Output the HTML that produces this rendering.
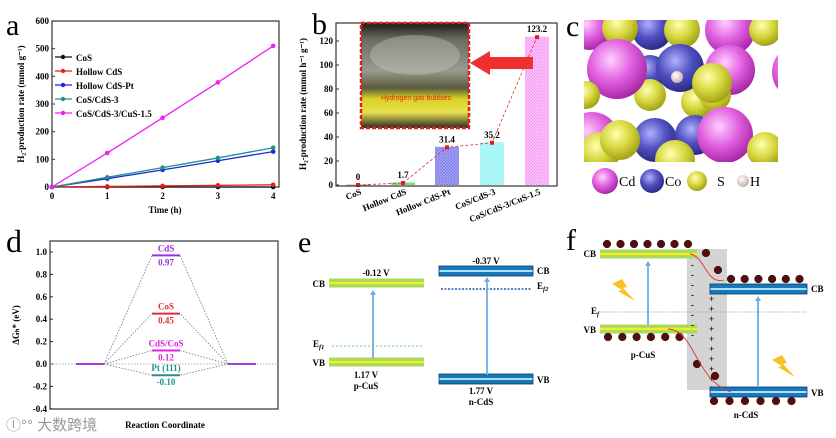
<!DOCTYPE html>
<html><head><meta charset="utf-8"><style>
body{margin:0;background:#fff;width:836px;height:438px;overflow:hidden}
svg{display:block;font-family:"Liberation Serif",serif}
.t{font-weight:bold;font-size:9px}
</style></head><body>
<svg id="fig" width="836" height="438" viewBox="0 0 836 438">
<defs>
<pattern id="hatchB" width="3" height="3" patternUnits="userSpaceOnUse"><rect width="3" height="3" fill="#7a7ae8"/><path d="M0 0L3 3M3 0L0 3" stroke="#b0b0f8" stroke-width="0.6"/></pattern>
<pattern id="hatchC" width="3" height="3" patternUnits="userSpaceOnUse"><rect width="3" height="3" fill="#8ff0f0"/><path d="M0 0L3 3M3 0L0 3" stroke="#c8ffff" stroke-width="0.6"/></pattern>
<pattern id="hatchP" width="3" height="3" patternUnits="userSpaceOnUse"><rect width="3" height="3" fill="#f39af3"/><path d="M0 0L3 3M3 0L0 3" stroke="#ffd0ff" stroke-width="0.6"/></pattern>
<radialGradient id="gCd" cx="0.4" cy="0.35" r="0.7"><stop offset="0" stop-color="#ffd0ff"/><stop offset="0.5" stop-color="#e060e0"/><stop offset="1" stop-color="#a020a0"/></radialGradient>
<radialGradient id="gCo" cx="0.4" cy="0.35" r="0.7"><stop offset="0" stop-color="#b0b0ff"/><stop offset="0.5" stop-color="#5050c0"/><stop offset="1" stop-color="#252580"/></radialGradient>
<radialGradient id="gS" cx="0.4" cy="0.35" r="0.7"><stop offset="0" stop-color="#ffffb0"/><stop offset="0.5" stop-color="#d8d840"/><stop offset="1" stop-color="#9a9a10"/></radialGradient>
<radialGradient id="gH" cx="0.4" cy="0.35" r="0.7"><stop offset="0" stop-color="#fff"/><stop offset="1" stop-color="#c8a8a8"/></radialGradient>
<linearGradient id="photo" x1="0" y1="0" x2="0" y2="1"><stop offset="0" stop-color="#1a1a14"/><stop offset="0.15" stop-color="#6a6a60"/><stop offset="0.45" stop-color="#9a9a90"/><stop offset="0.62" stop-color="#5a5a40"/><stop offset="0.72" stop-color="#d8d020"/><stop offset="0.85" stop-color="#e8e050"/><stop offset="1" stop-color="#2a2a20"/></linearGradient>
</defs>
<g id="pa"></g>
<g id="pb"></g>
<g id="pc"></g>
<g id="pd"></g>
<g id="pe"></g>
<g id="pf"></g>
</svg>
<script>
// Panel a data
const aTimes=[0,1,2,3,4];
const aSeriesNames=["CoS","Hollow CdS","Hollow CdS-Pt","CoS/CdS-3","CoS/CdS-3/CuS-1.5"];
const aCoS=[0,0,0,0,0];
const aHollowCdS=[0,2,4,6,8];
const aHollowCdSPt=[0,30,62,95,128];
const aCoSCdS3=[0,35,70,105,142];
const aCuS=[0,123,250,378,510];
const aYTicks=[0,100,200,300,400,500,600];
// Panel b data
const bCategories=["CoS","Hollow CdS","Hollow CdS-Pt","CoS/CdS-3","CoS/CdS-3/CuS-1.5"];
const bValues=[0,1.7,31.4,35.2,123.2];
const bYTicks=[0,20,40,60,80,100,120];
// Panel d data
const dYTicks=[-0.4,-0.2,0.0,0.2,0.4,0.6,0.8,1.0];
const dNames=["CdS","CoS","CdS/CoS","Pt (111)"];
const dValues=[0.97,0.45,0.12,-0.10];

const NS="http://www.w3.org/2000/svg";
function el(tag,attrs,parent,text){const e=document.createElementNS(NS,tag);for(const k in attrs)e.setAttribute(k,attrs[k]);if(text!==undefined)e.textContent=text;parent.appendChild(e);return e;}
function sub(t,s){const ts=document.createElementNS(NS,'tspan');ts.setAttribute('dy','2');ts.setAttribute('font-size','6.5');ts.setAttribute('font-style','italic');ts.textContent=s;t.appendChild(ts);}

// ---------- Panel a ----------
(function(){
const g=document.getElementById('pa');
const X0=52,X1=279,Y0=187,Y1=21;
const x=v=>52+v*55.3, y=v=>Y0-v/600*(Y0-Y1);
let t;
t=el('text',{x:6,y:35,'font-size':30},g,'a');

const fr=el('rect',{x:X0,y:Y1,width:X1-X0,height:Y0-Y1,fill:'none',stroke:'#333','stroke-width':1.2},g);

aYTicks.forEach(v=>{el('line',{x1:X0,x2:X0+3,y1:y(v),y2:y(v),stroke:'#333'},g);
 const tt=el('text',{x:X0-3,y:y(v)+3,'text-anchor':'end',class:'t','font-size':9.5},g,String(v));
 });
aTimes.forEach(v=>{el('line',{x1:x(v),x2:x(v),y1:Y0,y2:Y0-3,stroke:'#333'},g);
 const tt=el('text',{x:x(v),y:Y0+12,'text-anchor':'middle',class:'t','font-size':10},g,String(v));
 });
t=el('text',{x:165,y:213,'text-anchor':'middle',class:'t','font-size':10},g,'Time (h)');

t=el('text',{x:0,y:0,'text-anchor':'middle',class:'t','font-size':9.5,transform:'translate(24,104) rotate(-90)'},g,'H\u2082-production rate (mmol g\u207B\u00B9)');

const series=[aCoS,aHollowCdS,aHollowCdSPt,aCoSCdS3,aCuS];
const colors=['#111','#e02020','#1a2ad8','#20908a','#f020f0'];
series.forEach((s,i)=>{
 const p=el('polyline',{points:s.map((v,j)=>x(aTimes[j])+','+y(v)).join(' '),fill:'none',stroke:colors[i],'stroke-width':1.3},g);
 
 s.forEach((v,j)=>{const c=el('circle',{cx:x(aTimes[j]),cy:y(v),r:2.3,fill:colors[i]},g);
  });
});
aSeriesNames.forEach((n,i)=>{const ly=57+i*14;
 const lg=el('g',{},g);
 el('line',{x1:55,x2:72,y1:ly,y2:ly,stroke:colors[i],'stroke-width':1.3},lg);
 el('circle',{cx:63,cy:ly,r:2.2,fill:colors[i]},lg);
 el('text',{x:76,y:ly+4,class:'t','font-size':11},lg,n);});
})();

// ---------- Panel b ----------
(function(){
const g=document.getElementById('pb');
const X0=336,X1=557,Y0=185,Y1=23;
const y=v=>Y0-v*1.2;
const cx=[358,403,447,492,537];
let t=el('text',{x:312,y:34,'font-size':30},g,'b');

const fills=['#f0a0a0','#7de07d','url(#hatchB)','url(#hatchC)','url(#hatchP)'];
bValues.forEach((v,i)=>{
 const r=el('rect',{x:cx[i]-12,y:y(v)-0.5,width:24,height:Math.max(v*1.2,1)+0.5,fill:fills[i]},g);
 
 const tt=el('text',{x:cx[i],y:y(v)-5,'text-anchor':'middle',class:'t','font-size':10},g,String(v));
 
 const lb=el('text',{x:0,y:0,'text-anchor':'end',class:'t','font-size':6.5,transform:'translate('+(cx[i]+4)+','+(Y0+9)+') rotate(-22)'},g,bCategories[i]);
 
});
const pl=el('polyline',{points:bValues.map((v,i)=>cx[i]+','+y(v)).join(' '),fill:'none',stroke:'#e03030','stroke-width':0.8,'stroke-dasharray':'3,2'},g);

bValues.forEach((v,i)=>{const c=el('rect',{x:cx[i]-2,y:y(v)-2,width:4,height:4,fill:'#e02020'},g);});
el('rect',{x:X0,y:Y1,width:X1-X0,height:Y0-Y1+1,fill:'none',stroke:'#333','stroke-width':1.2},g);
bYTicks.forEach(v=>{el('line',{x1:X0,x2:X0+3,y1:y(v),y2:y(v),stroke:'#333'},g);
 const tt=el('text',{x:X0-3,y:y(v)+3,'text-anchor':'end',class:'t','font-size':8.5},g,String(v));
 });
t=el('text',{x:0,y:0,'text-anchor':'middle',class:'t','font-size':8.5,transform:'translate(306,104) rotate(-90)'},g,'H\u2082-production rate (mmol h\u207B\u00B9 g\u207B\u00B9)');

const ph=el('g',{},g);
el('rect',{x:361,y:23,width:108,height:105,fill:'url(#photo)'},ph);
el('ellipse',{cx:415,cy:55,rx:45,ry:20,fill:'#d0d0c8',opacity:0.35},ph);
el('rect',{x:361,y:23,width:108,height:105,fill:'none',stroke:'#e02020','stroke-width':2.5,'stroke-dasharray':'4,2'},ph);
el('text',{x:416,y:100,'text-anchor':'middle','font-size':7,fill:'#e03010','font-family':'Liberation Sans,sans-serif'},ph,'Hydrogen gas bubbles');
const ar=el('path',{d:'M470 63 L490 51 L490 57 L533 57 L533 69 L490 69 L490 75 Z',fill:'#f03030'},g);

})();

// ---------- Panel c ----------
(function(){
const g=document.getElementById('pc');
let t=el('text',{x:566,y:36,'font-size':30},g,'c');

const cg=el('g',{},g);
const cp=el('clipPath',{id:'cclip'},cg);
el('rect',{x:584,y:20,width:194,height:142},cp);
const inner=el('g',{'clip-path':'url(#cclip)'},cg);
el('rect',{x:584,y:20,width:194,height:142,fill:'#fff'},inner);
const atoms=[
['Cd',590,30,20],['Co',652,30,20],['Cd',730,30,25],['S',620,28,18],['S',682,30,18],['S',765,30,16],
['Co',650,72,17],['Cd',800,72,28],['S',650,95,16],['S',697,102,16],['Cd',730,70,25],['Cd',617,69,30],['S',586,95,14],['S',715,95,16],
['Co',680,68,24],['S',712,83,20],
['Cd',592,140,28],['S',600,152,20],['Co',655,140,22],['Co',695,135,20],['Cd',725,135,28],['S',765,150,18],['S',675,160,20],['S',620,140,20],
];
const fillMap={Cd:'url(#gCd)',Co:'url(#gCo)',S:'url(#gS)'};
atoms.forEach(a=>el('circle',{cx:a[1],cy:a[2],r:a[3],fill:fillMap[a[0]]},inner));
el('circle',{cx:677,cy:77,r:6,fill:'url(#gH)'},inner);
const leg=[['Cd',605,181,13,'Cd'],['Co',652,181,12,'Co'],['S',697,181,10,'S'],['H',743,181,6,'H']];
const lf={Cd:'url(#gCd)',Co:'url(#gCo)',S:'url(#gS)',H:'url(#gH)'};
leg.forEach(l=>{const lg=el('g',{},g);
 el('circle',{cx:l[1],cy:l[2],r:l[3],fill:lf[l[0]]},lg);
 el('text',{x:l[1]+l[3]+(l[0]==='S'?10:1),y:l[2]+5,'font-size':14},lg,l[4]);});
})();

// ---------- Panel d ----------
(function(){
const g=document.getElementById('pd');
const X0=50,X1=278,Y0=409,Y1=241;
const y=v=>364-v*112;
let t=el('text',{x:6,y:252,'font-size':32},g,'d');

el('rect',{x:X0,y:Y1,width:X1-X0,height:Y0-Y1,fill:'none',stroke:'#333','stroke-width':1.2},g);
dYTicks.forEach(v=>{el('line',{x1:X0,x2:X0+3,y1:y(v),y2:y(v),stroke:'#333'},g);
 const tt=el('text',{x:X0-3,y:y(v)+3,'text-anchor':'end',class:'t','font-size':8.5},g,v.toFixed(1));
 });
t=el('text',{x:0,y:0,'text-anchor':'middle',class:'t','font-size':12,transform:'translate(19,325) rotate(-90)'},g,'\u0394G\u2095* (eV)');

t=el('text',{x:165,y:428,'text-anchor':'middle',class:'t','font-size':12},g,'Reaction Coordinate');

el('line',{x1:X0,x2:X1,y1:y(0),y2:y(0),stroke:'#999','stroke-dasharray':'1.5,1.5','stroke-width':0.8},g);
el('line',{x1:76,x2:104,y1:y(0),y2:y(0),stroke:'#a040e0','stroke-width':2},g);
el('line',{x1:228,x2:256,y1:y(0),y2:y(0),stroke:'#a040e0','stroke-width':2},g);
const cols=['#9a30e0','#e03030','#e020e0','#209090'];
dValues.forEach((v,i)=>{
 el('polyline',{points:'104,'+y(0)+' 152,'+y(v)+' 180,'+y(v)+' 228,'+y(0),fill:'none',stroke:'#777','stroke-dasharray':'1.5,1.5','stroke-width':0.8},g);
 const l=el('line',{x1:152,x2:180,y1:y(v),y2:y(v),stroke:cols[i],'stroke-width':2},g);
 
 el('text',{x:166,y:y(v)-4,'text-anchor':'middle',class:'t','font-size':7.5,fill:cols[i]},g,dNames[i]);
 el('text',{x:166,y:y(v)+10,'text-anchor':'middle',class:'t','font-size':7.5,fill:cols[i]},g,v.toFixed(2));
});
const wm=el('text',{x:6,y:430,'font-size':15,fill:'#999','font-family':'Liberation Sans,Noto Sans CJK SC,sans-serif'},g,'\u24DB\u00B0\u00B0 大数跨境');

})();

function band(g,x1,x2,yc,type,name){
 const b=el('g',{},g);
 if(type==='g'){el('rect',{x:x1,y:yc-4.5,width:x2-x1,height:9,fill:'#a8d860'},b);el('rect',{x:x1,y:yc-1.2,width:x2-x1,height:2.4,fill:'#f0f020'},b);}
 else{el('rect',{x:x1,y:yc-5,width:x2-x1,height:10,fill:'#1878b8'},b);el('rect',{x:x1,y:yc-1,width:x2-x1,height:2,fill:'#a8e0ff'},b);el('rect',{x:x1,y:yc-5,width:x2-x1,height:10,fill:'none',stroke:'#0a3a68','stroke-width':0.8},b);}
}
function arrow(g,x,y1,y2,name){const a=el('g',{},g);
 el('line',{x1:x,x2:x,y1:y1,y2:y2+4,stroke:'#6aaee8','stroke-width':1.8},a);
 el('path',{d:'M'+(x-3)+' '+(y2+5)+' L'+x+' '+y2+' L'+(x+3)+' '+(y2+5)+' Z',fill:'#6aaee8'},a);}
// ---------- Panel e ----------
(function(){
const g=document.getElementById('pe');
let t=el('text',{x:298,y:252,'font-size':30},g,'e');

band(g,329,424,283,'g','cus-cb');band(g,329,424,362,'g','cus-vb');
band(g,439,533,271,'b','cds-cb');band(g,439,533,379,'b','cds-vb');
el('line',{x1:332,x2:422,y1:346,y2:346,stroke:'#70d070','stroke-dasharray':'2,2'},g);
el('line',{x1:441,x2:531,y1:289,y2:289,stroke:'#1a5ab0','stroke-dasharray':'2,1.5','stroke-width':1.5},g);
arrow(g,373,358,290,'cus-excitation-arrow');arrow(g,487,375,277,'cds-excitation-arrow');
const labels=[[376,276,'-0.12 V','middle'],[486,264,'-0.37 V','middle'],[325,287,'CB','end'],[325,366,'VB','end'],[537,274,'CB','start'],[537,383,'VB','start'],
[366,378,'1.17 V','middle'],[366,389,'p-CuS','middle'],[481,394,'1.77 V','middle'],[481,405,'n-CdS','middle']];
labels.forEach(l=>{const tt=el('text',{x:l[0],y:l[1],'text-anchor':l[3],class:'t','font-size':8.5},g,l[2]);});
sub(el('text',{x:313,y:347,class:'t','font-size':8.5},g,'E'),'f1');
sub(el('text',{x:537,y:289,class:'t','font-size':8.5},g,'E'),'f2');
})();

// ---------- Panel f ----------
(function(){
const g=document.getElementById('pf');
let t=el('text',{x:566,y:250,'font-size':30},g,'f');

const gr=el('rect',{x:687,y:249,width:40,height:141,fill:'#d4d4d4'},g);

el('line',{x1:600,x2:806,y1:312,y2:312,stroke:'#aaa','stroke-dasharray':'1.5,1.5'},g);
band(g,600,697,254,'g','cus-cb');band(g,600,697,329,'g','cus-vb');
band(g,710,807,289,'b','cds-cb');band(g,710,807,392,'b','cds-vb');
arrow(g,648,325,261,'cus-excitation-arrow');arrow(g,758,386,296,'cds-excitation-arrow');
const dot=(x,y)=>{const c=el('circle',{cx:x,cy:y,r:3.8,fill:'#5a0a0a',stroke:'#222','stroke-width':0.6},g);};
for(let i=0;i<7;i++)dot(607+i*13.5,244);
for(let i=0;i<6;i++)dot(731+i*13.7,279);
for(let i=0;i<6;i++)dot(608+i*14.3,337);
for(let i=0;i<6;i++)dot(714+i*15.5,401);
dot(706,253);dot(718,270);dot(697,364);dot(715,376);
for(let i=0;i<8;i++)el('text',{x:691,y:268+i*10,'font-size':8,class:'t'},g,'-');
for(let i=0;i<9;i++)el('text',{x:709,y:302+i*10,'font-size':8,class:'t'},g,'+');
el('path',{d:'M690 254 C705 256 706 285 724 280',fill:'none',stroke:'#e03030','stroke-width':0.9},g);
el('path',{d:'M668 329 C695 330 695 380 731 392',fill:'none',stroke:'#e03030','stroke-width':0.9},g);
const bolt=(x,y)=>{const b=el('path',{d:'M'+x+' '+y+' l10 -5 l5 8 l-4 1 l12 13 l-17 -10 l4 -1 z',fill:'#f8c020'},g);};
bolt(612,284);bolt(772,360);
const labels=[[596,257,'CB','end'],[596,333,'VB','end'],[811,292,'CB','start'],[811,396,'VB','start'],[643,358,'p-CuS','middle'],[746,418,'n-CdS','middle']];
labels.forEach(l=>{const tt=el('text',{x:l[0],y:l[1],'text-anchor':l[3],class:'t','font-size':8.5},g,l[2]);});
sub(el('text',{x:591,y:314,class:'t','font-size':8.5},g,'E'),'f');
})();
</script>
</body></html>
